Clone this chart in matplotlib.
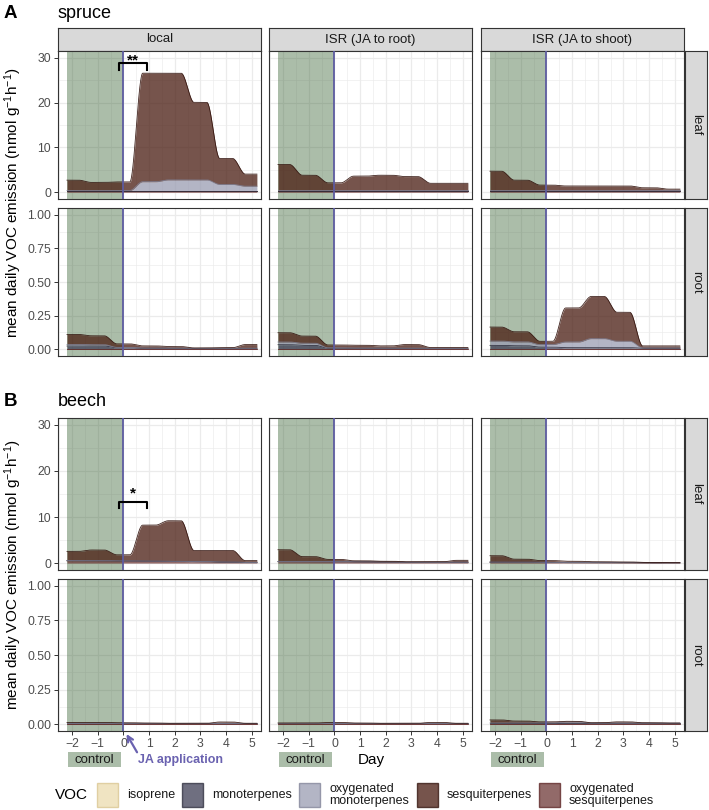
import numpy as np
import matplotlib
matplotlib.use("Agg")
import matplotlib.pyplot as plt
from matplotlib.patches import Rectangle
from matplotlib.transforms import blended_transform_factory

plt.rcParams['font.family'] = ['Liberation Sans', 'DejaVu Sans']
plt.rcParams['mathtext.default'] = 'regular'

# =====================
# DATA (daily means, days -2 .. 5)
# rows: isoprene, monoterpenes, oxygenated monoterpenes, sesquiterpenes, oxygenated sesquiterpenes
# =====================
DAYS = [-2, -1, 0, 1, 2, 3, 4, 5]
VOC = ["isoprene", "monoterpenes", "oxygenated\nmonoterpenes",
       "sesquiterpenes", "oxygenated\nsesquiterpenes"]
TREATMENTS = ["local", "ISR (JA to root)", "ISR (JA to shoot)"]
ORGANS = ["leaf", "root"]

spruce_leaf_local = [
    [0, 0, 0, 0, 0, 0, 0, 0],
    [0.05, 0.05, 0.05, 0.05, 0.05, 0.05, 0.05, 0.05],
    [0.05, 0.05, 0.05, 2.0, 2.4, 2.4, 1.4, 1.0],
    [2.3, 1.8, 1.9, 24.2, 23.8, 17.3, 5.8, 2.7],
    [0.3, 0.3, 0.3, 0.3, 0.3, 0.3, 0.3, 0.3],
]
spruce_leaf_isr_root = [
    [0, 0, 0, 0, 0, 0, 0, 0],
    [0.05, 0.05, 0.05, 0.05, 0.05, 0.05, 0.05, 0.05],
    [0.05, 0.05, 0.05, 0.05, 0.05, 0.05, 0.05, 0.05],
    [5.8, 3.4, 1.7, 3.2, 3.4, 3.1, 1.6, 1.6],
    [0.3, 0.3, 0.3, 0.3, 0.3, 0.3, 0.3, 0.3],
]
spruce_leaf_isr_shoot = [
    [0, 0, 0, 0, 0, 0, 0, 0],
    [0.05, 0.05, 0.05, 0.05, 0.05, 0.05, 0.05, 0.05],
    [0.05, 0.05, 0.05, 0.05, 0.05, 0.05, 0.05, 0.05],
    [4.3, 2.3, 1.2, 1.0, 1.0, 1.0, 0.6, 0.3],
    [0.3, 0.3, 0.3, 0.3, 0.3, 0.3, 0.3, 0.3],
]
spruce_root_local = [
    [0, 0, 0, 0, 0, 0, 0, 0],
    [0.02, 0.02, 0.006, 0.003, 0.003, 0.002, 0.002, 0.002],
    [0.012, 0.01, 0.004, 0.002, 0.002, 0.001, 0.001, 0.002],
    [0.074, 0.066, 0.026, 0.016, 0.011, 0.003, 0.005, 0.027],
    [0.004, 0.004, 0.004, 0.004, 0.004, 0.004, 0.004, 0.004],
]
spruce_root_isr_root = [
    [0, 0, 0, 0, 0, 0, 0, 0],
    [0.03, 0.025, 0.004, 0.003, 0.003, 0.003, 0.002, 0.002],
    [0.02, 0.016, 0.003, 0.002, 0.002, 0.002, 0.001, 0.001],
    [0.069, 0.053, 0.021, 0.021, 0.016, 0.026, 0.006, 0.006],
    [0.004, 0.004, 0.004, 0.004, 0.004, 0.004, 0.004, 0.004],
]
spruce_root_isr_shoot = [
    [0, 0, 0, 0, 0, 0, 0, 0],
    [0.025, 0.022, 0.012, 0.008, 0.008, 0.008, 0.003, 0.003],
    [0.032, 0.029, 0.019, 0.042, 0.067, 0.048, 0.003, 0.003],
    [0.104, 0.075, 0.024, 0.253, 0.314, 0.215, 0.015, 0.015],
    [0.004, 0.004, 0.004, 0.004, 0.004, 0.004, 0.004, 0.004],
]
beech_leaf_local = [
    [0, 0, 0, 0, 0, 0, 0, 0],
    [0.02, 0.02, 0.02, 0.02, 0.02, 0.02, 0.02, 0.02],
    [0.02, 0.02, 0.02, 0.02, 0.02, 0.02, 0.02, 0.02],
    [2.0, 2.3, 1.3, 7.8, 8.8, 2.4, 2.5, 0.4],
    [0.5, 0.5, 0.45, 0.4, 0.35, 0.3, 0.2, 0.1],
]
beech_leaf_isr_root = [
    [0, 0, 0, 0, 0, 0, 0, 0],
    [0.02, 0.02, 0.02, 0.02, 0.02, 0.02, 0.02, 0.02],
    [0.02, 0.02, 0.02, 0.02, 0.02, 0.02, 0.02, 0.02],
    [2.56, 1.06, 0.46, 0.21, 0.16, 0.11, 0.11, 0.41],
    [0.3, 0.3, 0.3, 0.25, 0.2, 0.15, 0.15, 0.15],
]
beech_leaf_isr_shoot = [
    [0, 0, 0, 0, 0, 0, 0, 0],
    [0.01, 0.01, 0.01, 0.01, 0.01, 0.01, 0.01, 0.01],
    [0.01, 0.01, 0.01, 0.01, 0.01, 0.01, 0.01, 0.01],
    [1.38, 0.63, 0.38, 0.28, 0.18, 0.15, 0.08, 0.03],
    [0.2, 0.2, 0.15, 0.1, 0.1, 0.08, 0.05, 0.05],
]
beech_root_local = [
    [0, 0, 0, 0, 0, 0, 0, 0],
    [0.001, 0.001, 0.001, 0.001, 0.001, 0.001, 0.001, 0.001],
    [0.001, 0.001, 0.001, 0.001, 0.001, 0.001, 0.001, 0.001],
    [0.006, 0.006, 0.004, 0.002, 0.0, 0.0, 0.009, 0.0],
    [0.004, 0.004, 0.004, 0.004, 0.004, 0.004, 0.004, 0.004],
]
beech_root_isr_root = [
    [0, 0, 0, 0, 0, 0, 0, 0],
    [0.001, 0.001, 0.001, 0.001, 0.001, 0.001, 0.001, 0.001],
    [0.001, 0.001, 0.001, 0.001, 0.001, 0.001, 0.001, 0.001],
    [0.002, 0.002, 0.006, 0.002, 0.0, 0.0, 0.006, 0.0],
    [0.004, 0.004, 0.004, 0.004, 0.004, 0.004, 0.004, 0.004],
]
beech_root_isr_shoot = [
    [0, 0, 0, 0, 0, 0, 0, 0],
    [0.002, 0.002, 0.002, 0.002, 0.002, 0.002, 0.002, 0.002],
    [0.002, 0.002, 0.002, 0.008, 0.002, 0.002, 0.001, 0.001],
    [0.022, 0.014, 0.008, 0.006, 0.002, 0.008, 0.003, 0.001],
    [0.004, 0.004, 0.004, 0.004, 0.004, 0.004, 0.004, 0.004],
]

# significance brackets (leaf, local)
SIG_SPRUCE = "**"
SIG_BEECH = "*"

# =====================
# STYLE
# =====================
FILLS = ["#ecdbae", "#3f3f56", "#9a9cb2", "#481b10", "#6e3837"]
EDGES = ["#d9c48e", "#2a2a3a", "#7f8196", "#2e0e08", "#5a2020"]
AREA_ALPHA = 0.75
STACK = [4, 0, 1, 2, 3]   # bottom -> top
GREEN = "#2f5a2a"
PURPLE = "#6a62b0"
VLINE = "#5d5ba0"

W, H = 709, 810
fig = plt.figure(figsize=(W / 100, H / 100), dpi=100)


def px_axes(x0, y0, x1, y1):
    return fig.add_axes([x0 / W, 1 - y1 / H, (x1 - x0) / W, (y1 - y0) / H])


def smooth_steps(vals, x, h=0.25):
    y = np.full_like(x, float(vals[0]))
    for d in range(len(DAYS) - 1):
        mid = DAYS[d] + 0.5
        t = np.clip((x - (mid - h)) / (2 * h), 0, 1)
        y += (vals[d + 1] - vals[d]) * t * t * (3 - 2 * t)
    return y


def style_strip(sax):
    sax.set_facecolor("#d9d9d9")
    sax.set_xticks([])
    sax.set_yticks([])
    for s in sax.spines.values():
        s.set_color("#333333")
        s.set_linewidth(0.8)


COLS_X = [(58, 261), (269, 472), (481, 684)]
ROWS_Y = {"spruce": [(51, 199), (208, 356)], "beech": [(418, 570), (579, 731)]}
PANELS = {
    "spruce": [[spruce_leaf_local, spruce_leaf_isr_root, spruce_leaf_isr_shoot],
               [spruce_root_local, spruce_root_isr_root, spruce_root_isr_shoot]],
    "beech": [[beech_leaf_local, beech_leaf_isr_root, beech_leaf_isr_shoot],
              [beech_root_local, beech_root_isr_root, beech_root_isr_shoot]],
}
xs = np.linspace(-2.2, 5.2, 700)

# column strips first, so panel annotations can sit on top
for c in range(3):
    x0, x1 = COLS_X[c]
    sax = px_axes(x0, 28, x1, 51)
    style_strip(sax)
    sax.text(0.5, 0.5, TREATMENTS[c], ha="center", va="center",
             fontsize=9.5, color="#1a1a1a", transform=sax.transAxes)

for species in ["spruce", "beech"]:
    for r, organ in enumerate(ORGANS):
        y0, y1 = ROWS_Y[species][r]
        for c in range(3):
            x0, x1 = COLS_X[c]
            ax = px_axes(x0, y0, x1, y1)
            data = PANELS[species][r][c]

            # control period shading under the areas
            ax.axvspan(-2.2, 0, color=GREEN, alpha=0.4, lw=0, zorder=1)

            base = np.zeros_like(xs)
            for k in STACK:
                top = base + smooth_steps(data[k], xs)
                ax.fill_between(xs, base, top, color=FILLS[k], alpha=AREA_ALPHA,
                                lw=0, zorder=2)
                if max(data[k]) > 0:
                    ax.plot(xs, top, color=EDGES[k], lw=0.6, alpha=0.9, zorder=2.5)
                base = top

            ax.axvline(0, color=VLINE, lw=1.3, zorder=4)

            ax.set_xlim(-2.55, 5.36)
            ax.set_xticks(DAYS)
            ax.set_xticks(np.arange(-2.5, 5.5, 0.5), minor=True)
            if organ == "leaf":
                ax.set_ylim(-1.5, 31.5)
                ax.set_yticks([0, 10, 20, 30])
                ax.set_yticks([5, 15, 25], minor=True)
            else:
                ax.set_ylim(-0.05, 1.05)
                ax.set_yticks([0, 0.25, 0.5, 0.75, 1.0])
                ax.set_yticks(np.arange(0.125, 1.0, 0.25), minor=True)
                ax.set_yticklabels(["0.00", "0.25", "0.50", "0.75", "1.00"])
            ax.grid(which="major", color="#ebebeb", lw=0.9, zorder=0)
            ax.grid(which="minor", color="#ebebeb", lw=0.45, zorder=0)
            ax.set_axisbelow(True)
            for s in ax.spines.values():
                s.set_color("#333333")
                s.set_linewidth(0.8)
            ax.tick_params(which="major", length=3, width=0.7, color="#333333",
                           labelsize=8.8, labelcolor="#4d4d4d", pad=2)
            ax.tick_params(which="minor", length=0)

            show_x = species == "beech" and organ == "root"
            ax.tick_params(axis="x", bottom=show_x, labelbottom=show_x)
            ax.tick_params(axis="y", left=(c == 0), labelleft=(c == 0))

            # significance bracket
            if organ == "leaf" and c == 0:
                if species == "spruce":
                    yt, yb, ys, lab = 28.9, 27.3, 28.6, SIG_SPRUCE
                else:
                    yt, yb, ys, lab = 13.2, 11.9, 14.2, SIG_BEECH
                ax.plot([-0.18, -0.18, 0.9, 0.9], [yb, yt, yt, yb],
                        color="black", lw=1.5, zorder=5, clip_on=False)
                ax.text(0.36, ys, lab, ha="center", va="baseline",
                        fontsize=11, fontweight="bold", zorder=6)

            # control boxes under the x axis
            if show_x:
                tr = blended_transform_factory(ax.transData, ax.transAxes)
                ax.add_patch(Rectangle((-2.17, -0.237), 2.09, 0.099, transform=tr,
                                       facecolor=GREEN, alpha=0.4, lw=0, clip_on=False))
                ax.text(-1.12, -0.19, "control", transform=tr, ha="center",
                        va="center", fontsize=9.5, color="#1a1a1a")
                if c == 0:
                    ax.text(0.55, -0.19, "JA application", transform=tr, ha="left",
                            va="center", fontsize=9, fontweight="bold", color=PURPLE)
                    ax.annotate("", xy=(0.12, -0.02), xycoords=tr,
                                xytext=(0.53, -0.14), textcoords=tr,
                                arrowprops=dict(arrowstyle="->", color=PURPLE, lw=1.6,
                                                shrinkA=0, shrinkB=0))

        # row strip
        rax = px_axes(685, y0, 707, y1)
        style_strip(rax)
        rax.text(0.5, 0.5, organ, ha="center", va="center", rotation=-90,
                 fontsize=9.5, color="#1a1a1a", transform=rax.transAxes)

# =====================
# TITLES / LABELS
# =====================
fig.text(4 / W, 1 - 13 / H, "A", fontsize=13.5, fontweight="bold", va="center")
fig.text(58 / W, 1 - 13 / H, "spruce", fontsize=13, va="center")
fig.text(4 / W, 1 - 401 / H, "B", fontsize=13.5, fontweight="bold", va="center")
fig.text(58 / W, 1 - 401 / H, "beech", fontsize=13, va="center")

ylab = "mean daily VOC emission (nmol g$^{-1}$h$^{-1}$)"
fig.text(13 / W, 1 - 203 / H, ylab, rotation=90, ha="center", va="center", fontsize=11)
fig.text(13 / W, 1 - 575 / H, ylab, rotation=90, ha="center", va="center", fontsize=11)
fig.text(371 / W, 1 - 760 / H, "Day", ha="center", va="center", fontsize=11)

# =====================
# LEGEND
# =====================
fig.text(55 / W, 1 - 795 / H, "VOC", ha="left", va="center", fontsize=11)
KEY_X = [97, 182, 299, 417, 539]
for k, label in enumerate(VOC):
    kx = KEY_X[k]
    fig.patches.append(Rectangle((kx / W, 1 - 807 / H), 21 / W, 24 / H,
                                 transform=fig.transFigure, facecolor=FILLS[k],
                                 alpha=AREA_ALPHA, edgecolor=EDGES[k], lw=1.0))
    fig.text((kx + 30) / W, 1 - 795 / H, label, ha="left", va="center",
             fontsize=9, color="#1a1a1a", linespacing=1.0)

fig.savefig("out.png", dpi=100)
